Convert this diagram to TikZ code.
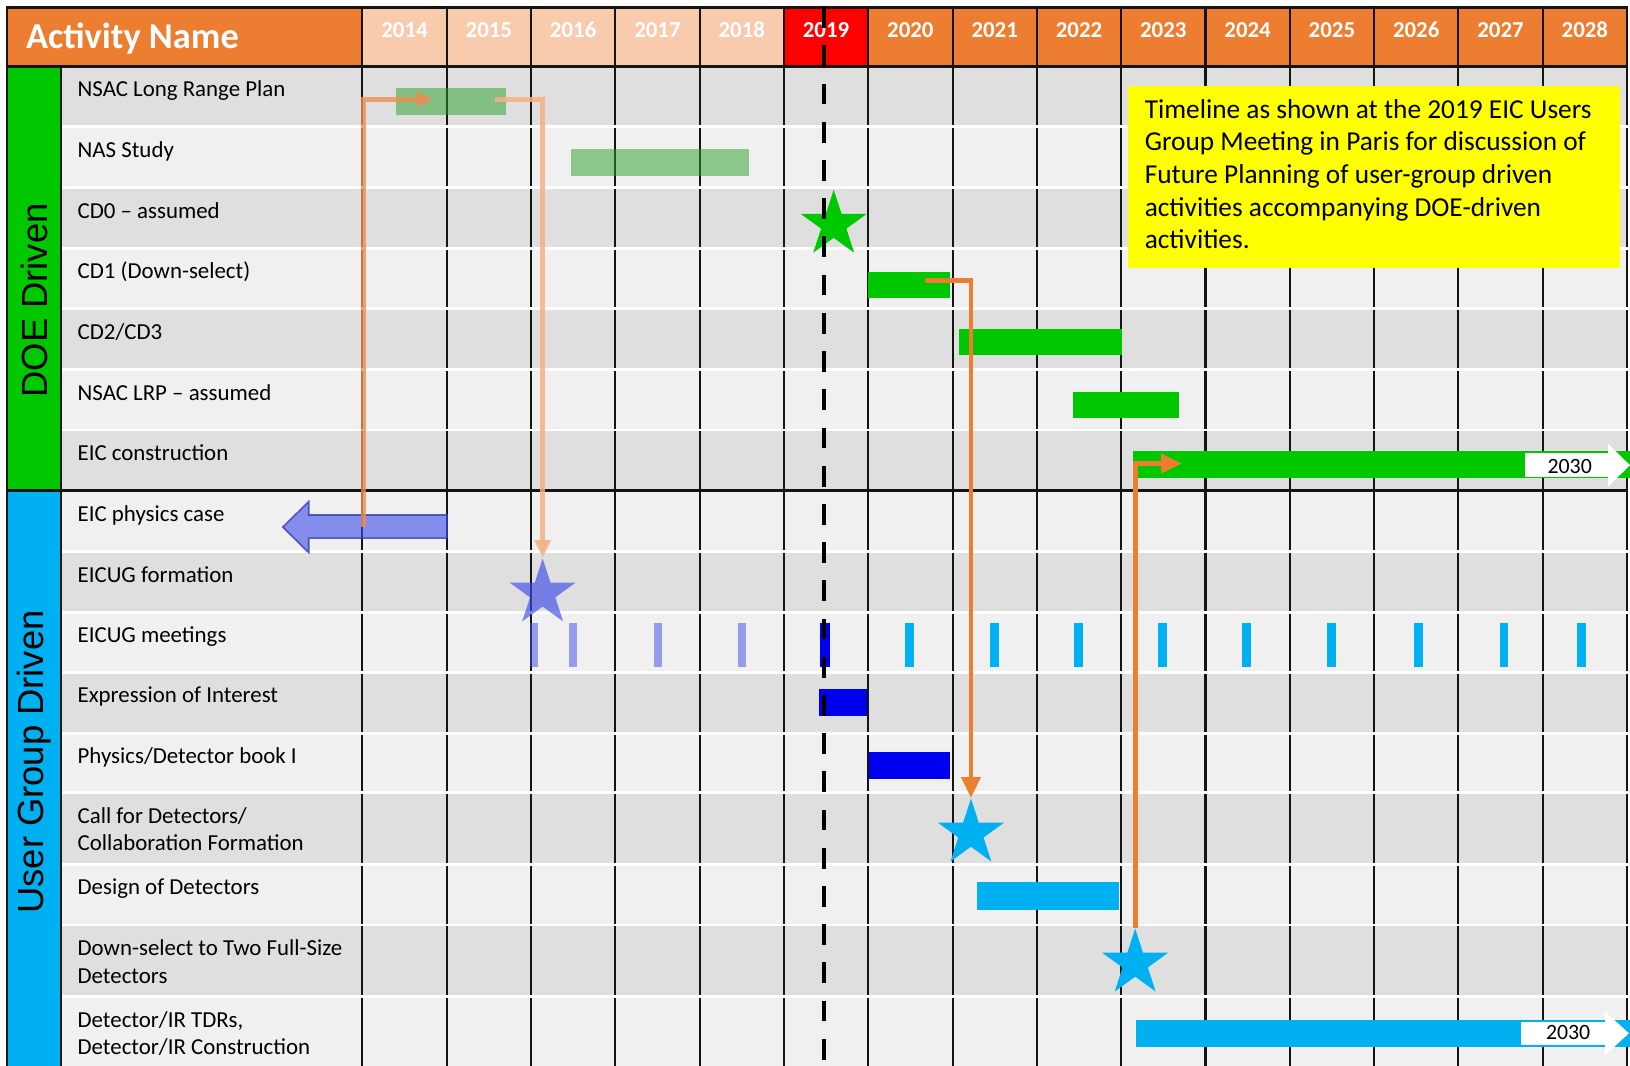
\documentclass[tikz,border=0pt]{standalone}
\usepackage{fontspec}
\setmainfont{Carlito}
\newfontfamily\arialfont{Liberation Sans}
\usetikzlibrary{shapes.geometric,arrows.meta,calc}

\definecolor{hdrorange}{HTML}{ED7D31}
\definecolor{hdrpeach}{HTML}{F8CBAD}
\definecolor{hdrred}{HTML}{FF0000}
\definecolor{doegreen}{HTML}{00C800}
\definecolor{ugblue}{HTML}{00B0F0}
\definecolor{rowdark}{HTML}{DFDFDF}
\definecolor{rowlight}{HTML}{F0F0F0}
\definecolor{mutedgreen}{RGB}{40,160,40}
\definecolor{barblue}{HTML}{0000F0}
\definecolor{purpleblue}{RGB}{60,75,232}
\definecolor{purpleedge}{RGB}{50,60,180}
\definecolor{peach}{HTML}{F4B183}
\definecolor{deeppeach}{HTML}{EC8E4E}
\definecolor{notey}{HTML}{FFFF00}
\definecolor{gridline}{HTML}{141414}

\newcommand{\lblfont}{\fontsize{22}{26.6}\selectfont}
\newcommand{\yrfont}{\bfseries\fontsize{22}{26}\selectfont}
\newcommand{\notefont}{\fontsize{26.3}{31.4}\selectfont}

\begin{document}
\begin{tikzpicture}[x=1pt,y=-1pt,
  bar/.style={rectangle, inner sep=0pt, draw=none, anchor=north west},
  mstar/.style={star, star points=5, star point ratio=2.618, minimum size=67pt, inner sep=0pt, draw=none},
  lbl/.style={anchor=base west, inner sep=0pt, font=\lblfont, text=black},
  yeartext/.style={anchor=base, inner sep=0pt, font=\yrfont, text=white},
  bandtext/.style={rotate=90, inner sep=0pt, font=\arialfont\fontsize{35}{40}\selectfont, text=black},
  gridv/.style={draw=gridline, line width=2pt},
  gridh/.style={draw=gridline, line width=3pt},
  rowsep/.style={draw=white, line width=2.6pt},
  peacharrow/.style={draw=peach, opacity=0.85, line width=4.8pt, -{Triangle[length=17pt,width=15pt]}},
  deeparrow/.style={draw=deeppeach, opacity=0.8, line width=4.8pt, -{Triangle[length=16pt,width=14pt]}},
  orangearrow/.style={draw=hdrorange, line width=4.5pt, -{Triangle[length=20pt,width=18pt]}},
  dashline/.style={draw=black, line width=4.5pt, dash pattern=on 20pt off 16.75pt},
  tag/.style={anchor=base, inner sep=0pt, font=\fontsize{21}{24}\selectfont, text=black},
  notebox/.style={rectangle, fill=notey, draw=none, inner sep=0pt, minimum width=473.5pt, minimum height=175.3pt, anchor=north west},
  notetext/.style={anchor=base west, inner sep=0pt, font=\notefont, text=black}
]
\useasboundingbox (0,0) rectangle (1568,1025);
\clip (0,0) rectangle (1568,1025);
\fill[white] (0,0) rectangle (1568,1025);

% ---- row backgrounds
\foreach \ya/\yb/\c in {64/122/rowdark, 122/180.5/rowlight, 180.5/239/rowdark, 239/297/rowlight,
  297/355.5/rowdark, 355.5/413.6/rowlight, 413.6/472/rowdark, 472/530.7/rowlight,
  530.7/589/rowdark, 589/646.7/rowlight, 646.7/705.4/rowdark, 705.4/762.5/rowlight,
  762.5/831.4/rowdark, 831.4/889.8/rowlight, 889.8/958.7/rowdark, 958.7/1025/rowlight}
  \fill[\c] (59,\ya) rectangle (1566,\yb);

% ---- side bands
\fill[doegreen] (7,64) rectangle (59,472);
\fill[ugblue] (7,472) rectangle (59,1025);

% ---- header cells
\fill[hdrorange] (7,7) rectangle (348.6,64);
\foreach \k in {0,...,14} {
  \pgfmathsetmacro\xa{348.6+81.1*\k}
  \pgfmathsetmacro\xb{348.6+81.1*(\k+1)}
  \ifnum\k<5
    \fill[hdrpeach] (\xa,7) rectangle (\xb,64);
  \else\ifnum\k=5
    \fill[hdrred] (\xa,7) rectangle (\xb,64);
  \else
    \fill[hdrorange] (\xa,7) rectangle (\xb,64);
  \fi\fi
}

% ---- vertical grid lines
\foreach \k in {0,...,15}
  \draw[gridv] ({348.6+81.1*\k},7) -- ({348.6+81.1*\k},1025);

% ---- white row separators
\foreach \y in {122,180.5,239,297,355.5,413.6,530.7,589,646.7,705.4,762.5,831.4,889.8,958.7}
  \draw[rowsep] (59,\y) -- (1566,\y);

% ---- black structure lines
\draw[gridh] (6,7) -- (1566,7);
\draw[gridh] (6,64) -- (1566,64);
\draw[gridh] (6,472) -- (1566,472);
\draw[gridv] (7,7) -- (7,1025);
\draw[gridv] (59,64) -- (59,1025);

% ---- header texts
\node[anchor=base west, inner sep=0pt, font=\bfseries\fontsize{35}{40}\selectfont, text=white] (actname) at (25,46.5) {Activity Name};
\foreach \k in {0,...,14} {
  \pgfmathtruncatemacro\yr{2014+\k}
  \node[yeartext] (yr\k) at ({348.6+81.1*(\k+0.5)},35.9) {\yr};
}

% ---- band texts
\node[bandtext] (doetxt) at (33,289) {DOE Driven};
\node[bandtext] (ugtxt) at (33,733) {User Group Driven};

% ---- activity labels
\node[lbl] (l1) at (74.5,93.3) {NSAC Long Range Plan};
\node[lbl] (l2) at (74.5,151.3) {NAS Study};
\node[lbl] (l3) at (74.5,209.8) {CD0 – assumed};
\node[lbl] (l4) at (74.5,268.3) {CD1 (Down-select)};
\node[lbl] (l5) at (74.5,326.3) {CD2/CD3};
\node[lbl] (l6) at (74.5,384.8) {NSAC LRP – assumed};
\node[lbl] (l7) at (74.5,442.9) {EIC construction};
\node[lbl] (l8) at (74.5,501.3) {EIC physics case};
\node[lbl] (l9) at (74.5,560) {EICUG formation};
\node[lbl] (l10) at (74.5,618.3) {EICUG meetings};
\node[lbl] (l11) at (74.5,676) {Expression of Interest};
\node[lbl] (l12) at (74.5,734.7) {Physics/Detector book I};
\node[lbl] (l13) at (74.5,791.8) {\begin{tabular}[t]{@{}l@{}}Call for Detectors/\\Collaboration Formation\end{tabular}};
\node[lbl] (l14) at (74.5,860.7) {Design of Detectors};
\node[lbl] (l15) at (74.5,919.1) {\begin{tabular}[t]{@{}l@{}}Down-select to Two Full-Size\\Detectors\end{tabular}};
\node[lbl] (l16) at (74.5,988) {\begin{tabular}[t]{@{}l@{}}Detector/IR TDRs,\\Detector/IR Construction\end{tabular}};

% ---- DOE bars
\node[bar, fill=mutedgreen, fill opacity=0.5, minimum width=106pt, minimum height=26pt] (nsacbar) at (381,84) {};
\node[bar, fill=mutedgreen, fill opacity=0.5, minimum width=171pt, minimum height=26pt] (nasbar) at (549,143) {};
\node[mstar, fill=doegreen] (cd0star) at (802,216) {};
\node[bar, fill=doegreen, minimum width=79pt, minimum height=25pt] (cd1bar) at (835,261) {};
\node[bar, fill=doegreen, minimum width=157pt, minimum height=25pt] (cd23bar) at (922,316) {};
\node[bar, fill=doegreen, minimum width=102pt, minimum height=25pt] (nlrpbar) at (1032,377) {};
\node[bar, fill=doegreen, minimum width=478.5pt, minimum height=26pt] (eicbar) at (1089.5,433.5) {};
\fill[white] (1467,436) rectangle (1547.5,458.5);
\fill[white] (1547,427) -- (1568,447.5) -- (1547,468) -- cycle;
\node[tag] (eic2030) at (1510,455.3) {2030};

% ---- user group items
\path[fill=purpleblue, fill opacity=0.6, draw=purpleedge, draw opacity=0.8, line width=1.5pt]
  (272,507) -- (297,482.5) -- (297,495.4) -- (430,495.4) -- (430,517.6) -- (297,517.6) -- (297,531.6) -- cycle;
\coordinate (physarrow) at (350,507);
\node[mstar, fill=purpleblue, fill opacity=0.65] (ugfstar) at (522,570.7) {};

\foreach \x in {514,551,633,714}
  \fill[purpleblue, fill opacity=0.5] (\x-3.75,599.6) rectangle (\x+3.75,641.3);
\fill[barblue] (789,599.6) rectangle (798,641.3);
\foreach \x in {874.8,956.7,1037.7,1118.2,1198.7,1280.7,1364.8,1446.7,1521.7}
  \fill[ugblue] (\x-4.25,599.6) rectangle (\x+4.25,641.3);

\node[bar, fill=barblue, minimum width=45.5pt, minimum height=26pt] (eoibar) at (788,663) {};
\node[bar, fill=barblue, minimum width=78pt, minimum height=26pt] (bookbar) at (836,723) {};
\node[mstar, fill=ugblue] (callstar) at (934,801.7) {};
\node[bar, fill=ugblue, minimum width=136pt, minimum height=26pt] (designbar) at (940,848.7) {};
\node[mstar, fill=ugblue] (dsstar) at (1092,926.7) {};
\node[bar, fill=ugblue, minimum width=475.5pt, minimum height=26pt] (tdrbar) at (1092.5,981) {};
\fill[white] (1463,983) rectangle (1544.5,1005);
\fill[white] (1544,973) -- (1567,994) -- (1544,1015) -- cycle;
\node[tag] (tdr2030) at (1508.5,1000) {2030};

% ---- connectors
\draw[deeparrow] (physarrow) |- ($(nsacbar.west)+(36,-1.6)$);
\draw[peacharrow] ($(nsacbar.east)+(-11,-1.6)$) -| (ugfstar.north);
\draw[orangearrow] ($(cd1bar.east)+(-25,-4)$) -| (callstar.north);
\draw[orangearrow] (dsstar.north) |- ($(eicbar.west)+(47.5,-0.8)$);

% ---- note
\node[notebox] (note) at (1084.5,82.7) {};
\node[notetext] (notetxt) at (1101,113.8) {\begin{tabular}[t]{@{}l@{}}Timeline as shown at the 2019 EIC Users\\Group Meeting in Paris for discussion of\\Future Planning of user-group driven\\activities accompanying DOE-driven\\activities.\end{tabular}};

% ---- 2019 marker
\draw[dashline] (792.6,7) -- (792.6,1025);
\end{tikzpicture}
\end{document}
